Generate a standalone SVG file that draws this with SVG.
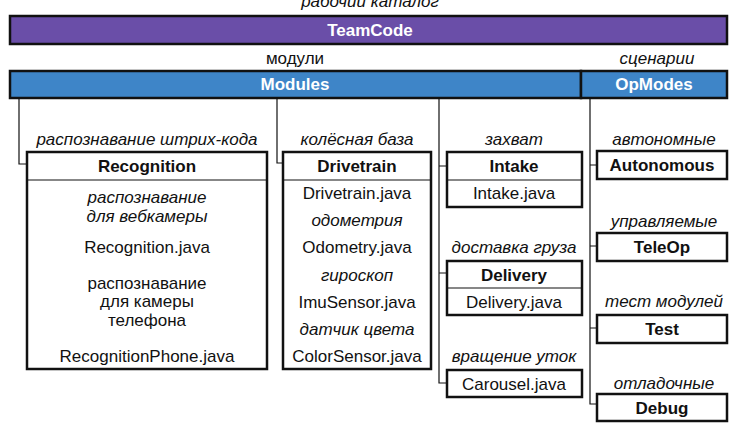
<svg xmlns="http://www.w3.org/2000/svg" width="737" height="424" viewBox="0 0 737 424">
<style>
text{font-family:"Liberation Sans",Arial,sans-serif;font-size:17px;fill:#111;text-anchor:middle}
.i{font-style:italic}
.b{font-weight:bold}
.w{fill:#fff;font-weight:bold}
.box{fill:#fff;stroke:#111;stroke-width:2.5}
.bar{stroke:#111;stroke-width:2.5}
.div{stroke:#111;stroke-width:1.2}
.con{fill:none;stroke:#111;stroke-width:1.2}
</style>
<rect width="737" height="424" fill="#fff"/>
<text class="i" x="370" y="7">рабочий каталог</text>
<g id="teamcode">
<rect class="bar" x="10" y="16" width="717" height="28" fill="#6a4ea8"/>
<text class="w" x="370" y="36">TeamCode</text>
</g>
<text x="295" y="64">модули</text>
<text class="i" x="657" y="64">сценарии</text>
<g id="modules">
<rect class="bar" x="10" y="71" width="571" height="27" fill="#3e85c8"/>
<text class="w" x="295" y="90">Modules</text>
</g>
<g id="opmodes">
<rect class="bar" x="581" y="71" width="146" height="27" fill="#3e85c8"/>
<text class="w" x="654" y="90">OpModes</text>
</g>
<g id="connectors">
<path class="con" d="M19 98V164H27"/>
<path class="con" d="M277 98V163H283"/>
<path class="con" d="M439 98V383H447M439 166H447M439 273H447"/>
<path class="con" d="M590 98V404H597M590 165H597M590 246H597M590 328H597"/>
</g>
<g id="recognition">
<text class="i" x="147" y="145">распознавание штрих-кода</text>
<rect class="box" x="27" y="152" width="240" height="217"/>
<line class="div" x1="27" y1="180" x2="267" y2="180"/>
<text class="b" x="147" y="172">Recognition</text>
<text class="i" x="147" y="203">распознавание</text>
<text class="i" x="147" y="222">для вебкамеры</text>
<text x="147" y="253">Recognition.java</text>
<text x="147" y="289">распознавание</text>
<text x="147" y="307">для камеры</text>
<text x="147" y="326">телефона</text>
<text x="147" y="362">RecognitionPhone.java</text>
</g>
<g id="drivetrain">
<text class="i" x="357" y="145">колёсная база</text>
<rect class="box" x="283" y="152" width="148" height="217"/>
<line class="div" x1="283" y1="180" x2="431" y2="180"/>
<text class="b" x="357" y="172">Drivetrain</text>
<text x="357" y="199">Drivetrain.java</text>
<text class="i" x="357" y="226">одометрия</text>
<text x="357" y="253">Odometry.java</text>
<text class="i" x="357" y="281">гироскоп</text>
<text x="357" y="308">ImuSensor.java</text>
<text class="i" x="357" y="335">датчик цвета</text>
<text x="357" y="362">ColorSensor.java</text>
</g>
<g id="intake">
<text class="i" x="514" y="145">захват</text>
<rect class="box" x="447" y="152" width="135" height="55"/>
<line class="div" x1="447" y1="180" x2="582" y2="180"/>
<text class="b" x="514" y="172">Intake</text>
<text x="514" y="199">Intake.java</text>
</g>
<g id="delivery">
<text class="i" x="514" y="253">доставка груза</text>
<rect class="box" x="447" y="261" width="135" height="54"/>
<line class="div" x1="447" y1="288" x2="582" y2="288"/>
<text class="b" x="514" y="281">Delivery</text>
<text x="514" y="308">Delivery.java</text>
</g>
<g id="carousel">
<text class="i" x="514" y="362">вращение уток</text>
<rect class="box" x="447" y="370" width="135" height="27"/>
<text x="514" y="390">Carousel.java</text>
</g>
<g id="autonomous">
<text class="i" x="664" y="145">автономные</text>
<rect class="box" x="597" y="151" width="130" height="28"/>
<text class="b" x="662" y="171">Autonomous</text>
</g>
<g id="teleop">
<text class="i" x="664" y="227">управляемые</text>
<rect class="box" x="597" y="233" width="130" height="28"/>
<text class="b" x="662" y="253">TeleOp</text>
</g>
<g id="test">
<text class="i" x="664" y="307">тест модулей</text>
<rect class="box" x="597" y="315" width="130" height="28"/>
<text class="b" x="662" y="335">Test</text>
</g>
<g id="debug">
<text class="i" x="664" y="389">отладочные</text>
<rect class="box" x="597" y="394" width="130" height="27"/>
<text class="b" x="662" y="414">Debug</text>
</g>
</svg>
